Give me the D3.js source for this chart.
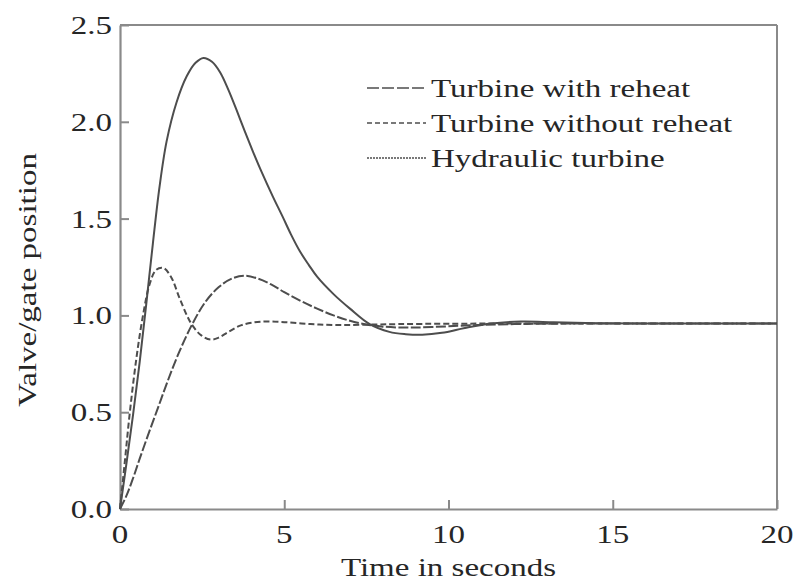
<!DOCTYPE html>
<html>
<head>
<meta charset="utf-8">
<script src="https://cdn.jsdelivr.net/npm/d3@7"></script>
<style>
  html, body { margin: 0; padding: 0; background: #fff; }
  svg { display: block; }
  text { font-family: "Liberation Serif", "Times New Roman", serif; fill: #262626; }
</style>
</head>
<body>
<svg id="chart" width="797" height="583"></svg>
<script>
// ---- Data ----
const seriesNames = ["Turbine with reheat", "Turbine without reheat", "Hydraulic turbine"];

const timeReheat = [0, 0.2, 0.4, 0.6, 0.85, 1.15, 1.45, 1.8, 2.2, 2.6, 3.0, 3.4, 3.8, 4.2, 4.6, 5.0, 5.5, 6.0, 6.5, 7.0, 7.5, 8.0, 8.7, 9.5, 10.5, 12, 14, 20];
const valueReheat = [0, 0.07, 0.16, 0.26, 0.38, 0.52, 0.66, 0.81, 0.955, 1.07, 1.145, 1.19, 1.205, 1.19, 1.16, 1.12, 1.075, 1.035, 1.0, 0.972, 0.953, 0.942, 0.937, 0.94, 0.948, 0.955, 0.958, 0.958];

const timeNoReheat = [0, 0.15, 0.3, 0.5, 0.7, 0.9, 1.1, 1.32, 1.55, 1.8, 2.05, 2.2, 2.45, 2.75, 3.0, 3.3, 3.7, 4.3, 5.0, 5.8, 6.6, 7.5, 8.5, 10, 12, 14, 20];
const valueNoReheat = [0, 0.25, 0.5, 0.78, 1.0, 1.16, 1.235, 1.245, 1.2, 1.095, 0.995, 0.95, 0.9, 0.875, 0.885, 0.915, 0.95, 0.968, 0.965, 0.955, 0.95, 0.952, 0.955, 0.957, 0.958, 0.958, 0.958];

const timeHydraulic = [0, 0.2, 0.4, 0.6, 0.8, 1.0, 1.2, 1.42, 1.72, 2.03, 2.3, 2.54, 2.8, 3.05, 3.3, 3.55, 3.8, 4.05, 4.3, 4.65, 4.95, 5.2, 5.48, 5.75, 6.0, 6.5, 7.0, 7.6, 8.2, 8.7, 9.2, 9.8, 10.5, 11.3, 12.2, 13.2, 14.5, 16, 18, 20];
const valueHydraulic = [0, 0.24, 0.49, 0.76, 1.06, 1.37, 1.66, 1.90, 2.10, 2.235, 2.305, 2.33, 2.31, 2.255, 2.165, 2.06, 1.95, 1.845, 1.745, 1.615, 1.51, 1.42, 1.33, 1.26, 1.20, 1.11, 1.035, 0.955, 0.915, 0.903, 0.90, 0.91, 0.935, 0.958, 0.968, 0.965, 0.96, 0.958, 0.958, 0.958];

const xTicks = [0, 5, 10, 15, 20];
const yTicks = [0.0, 0.5, 1.0, 1.5, 2.0, 2.5];
const xTitle = "Time in seconds";
const yTitle = "Valve/gate position";

// ---- Layout ----
const svg = d3.select("#chart");
const mLeft = 120, mRight = 777, mTop = 25, mBottom = 509;
const x = d3.scaleLinear().domain([0, 20]).range([mLeft, mRight]);
const y = d3.scaleLinear().domain([0, 2.5]).range([mBottom, mTop]);
const axisColor = "#8a8a8a";
const lineColor = "#4d4d4d";
const fontSize = 26;
const sx = 1.27; // text is drawn wider than plain Times

function label(g, txt, tx, ty, anchor, rot) {
  g.append("g")
    .attr("transform", `translate(${tx},${ty}) rotate(${rot || 0}) scale(${sx},1)`)
    .append("text")
    .attr("text-anchor", anchor)
    .attr("font-size", fontSize)
    .text(txt);
}

// frame (top & right)
svg.append("line").attr("x1", mLeft).attr("x2", mRight).attr("y1", mTop).attr("y2", mTop)
  .attr("stroke", axisColor).attr("stroke-width", 2);
svg.append("line").attr("x1", mRight).attr("x2", mRight).attr("y1", mTop).attr("y2", mBottom)
  .attr("stroke", axisColor).attr("stroke-width", 2);

// axes with inward ticks
const xAxis = d3.axisBottom(x).tickValues(xTicks).tickSizeInner(-9).tickSizeOuter(0).tickFormat("");
const yAxis = d3.axisLeft(y).tickValues(yTicks).tickSizeInner(-9).tickSizeOuter(0).tickFormat("");
const gx = svg.append("g").attr("transform", `translate(0,${mBottom})`).call(xAxis);
const gy = svg.append("g").attr("transform", `translate(${mLeft},0)`).call(yAxis);
[gx, gy].forEach(g => {
  g.select(".domain").attr("stroke", axisColor).attr("stroke-width", 2.2);
  g.selectAll(".tick line").attr("stroke", axisColor).attr("stroke-width", 2);
});

// tick labels
const labels = svg.append("g");
xTicks.forEach(t => label(labels, String(t), x(t), mBottom + 34, "middle"));
yTicks.forEach(v => label(labels, v.toFixed(1), mLeft - 8, y(v) + 9, "end"));

// axis titles
label(labels, xTitle, x(10), 576, "middle");
label(labels, yTitle, 36, 280, "middle", -90);

// curves
const series = [
  { name: seriesNames[0], t: timeReheat, v: valueReheat, dash: "10,2.5", legDash: "12,3" },
  { name: seriesNames[1], t: timeNoReheat, v: valueNoReheat, dash: "6,3", legDash: "5,3" },
  { name: seriesNames[2], t: timeHydraulic, v: valueHydraulic, dash: null, legDash: "2,1" }
];
const line = d3.line().x(d => x(d[0])).y(d => y(d[1])).curve(d3.curveCatmullRom.alpha(0.5));
series.forEach(s => {
  svg.append("path")
    .datum(s.t.map((t, i) => [t, s.v[i]]))
    .attr("d", line)
    .attr("fill", "none")
    .attr("stroke", lineColor)
    .attr("stroke-width", 2)
    .attr("stroke-dasharray", s.dash);
});

// legend
const leg = svg.append("g");
const legY = [88, 123, 158];
series.forEach((s, i) => {
  leg.append("line").attr("x1", 367).attr("x2", 426)
    .attr("y1", legY[i]).attr("y2", legY[i])
    .attr("stroke", lineColor).attr("stroke-width", 1.6)
    .attr("stroke-dasharray", s.legDash);
  label(leg, s.name, 431, legY[i] + 9, "start");
});
</script>
</body>
</html>
